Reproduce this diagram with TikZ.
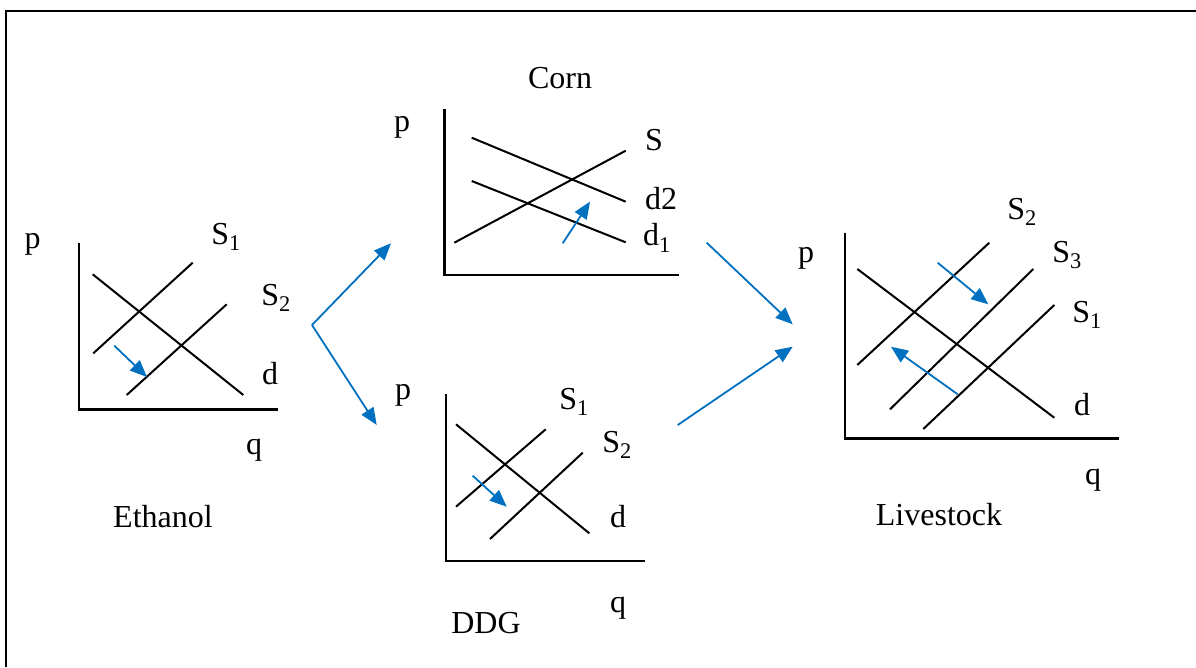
\documentclass[tikz,border=0pt]{standalone}
\usepackage{fontspec}
\setmainfont{Liberation Serif}
\usetikzlibrary{arrows.meta}
\definecolor{shiftblue}{RGB}{0,112,192}
\tikzset{
  axis/.style={line width=2.4pt},
  curve/.style={line width=2pt},
  lbl/.style={inner sep=0pt, font=\fontsize{32}{38}\selectfont},
  shiftarrow/.style={draw=shiftblue, line width=1.8pt,
    -{Triangle[length=17pt,width=14pt]}},
  link/.style={draw=shiftblue, line width=1.8pt,
    -{Triangle[length=17pt,width=14pt]}}
}
\newcommand{\Ssub}[1]{S\textsubscript{#1}}
\begin{document}
\begin{tikzpicture}[x=1pt,y=-1pt]
\useasboundingbox (0,0) rectangle (1196,667);
% outer frame (top and left edges)
\draw[line width=2.4pt] (6,667) -- (6,11) -- (1196,11);

% ---------- Ethanol market ----------
\coordinate (eO) at (78.7,409.3);
\draw[axis] (78.7,242.7) -- (eO) -- (277.7,409.3);
\coordinate (eS1a) at (93.3,353.3);  \coordinate (eS1b) at (192.7,262.7);
\coordinate (eS2a) at (126.7,395);   \coordinate (eS2b) at (226.7,304.3);
\coordinate (eDa) at (92.7,274.3);   \coordinate (eDb) at (243.3,395);
\draw[curve] (eS1a) -- (eS1b);
\draw[curve] (eS2a) -- (eS2b);
\draw[curve] (eDa) -- (eDb);
\coordinate (eAr1) at (114.3,345.7); \coordinate (eAr2) at (147,377);
\draw[shiftarrow] (eAr1) -- (eAr2);
\node[lbl] (ep) at (32.5,244) {p};
\node[lbl] (eS1) at (226,237) {\Ssub{1}};
\node[lbl] (eS2) at (276,298) {\Ssub{2}};
\node[lbl] (ed) at (270,374) {d};
\node[lbl] (eq) at (254,450) {q};
\node[lbl] (eth) at (163,517) {Ethanol};

% ---------- Corn market ----------
\coordinate (cO) at (444.3,275);
\draw[axis] (444.3,109) -- (cO) -- (679,275);
\coordinate (cSa) at (454.3,242.7);  \coordinate (cSb) at (625.7,150.7);
\coordinate (cD2a) at (471.7,137.7); \coordinate (cD2b) at (625.7,201.7);
\coordinate (cD1a) at (471.7,181);   \coordinate (cD1b) at (625.7,242.3);
\draw[curve] (cSa) -- (cSb);
\draw[curve] (cD2a) -- (cD2b);
\draw[curve] (cD1a) -- (cD1b);
\coordinate (cAr1) at (562.7,243.3); \coordinate (cAr2) at (590,201.7);
\draw[shiftarrow] (cAr1) -- (cAr2);
\node[lbl] (corn) at (560,78) {Corn};
\node[lbl] (cp) at (402,127) {p};
\node[lbl] (cS) at (654,140) {S};
\node[lbl] (cd2) at (661,199) {d2};
\node[lbl] (cd1) at (657,238) {d\textsubscript{1}};

% ---------- DDG market ----------
\coordinate (gO) at (446,561);
\draw[axis] (446,394.3) -- (gO) -- (645,561);
\coordinate (gDa) at (456,424.3);    \coordinate (gDb) at (589.3,533.3);
\coordinate (gS1a) at (456,506.7);   \coordinate (gS1b) at (545.7,429.3);
\coordinate (gS2a) at (490,539);     \coordinate (gS2b) at (582.7,452.7);
\draw[curve] (gDa) -- (gDb);
\draw[curve] (gS1a) -- (gS1b);
\draw[curve] (gS2a) -- (gS2b);
\coordinate (gAr1) at (472.7,475.7); \coordinate (gAr2) at (506.7,506.7);
\draw[shiftarrow] (gAr1) -- (gAr2);
\node[lbl] (gp) at (403,395) {p};
\node[lbl] (gS1) at (574,402) {\Ssub{1}};
\node[lbl] (gS2) at (617,445) {\Ssub{2}};
\node[lbl] (gd) at (618,517) {d};
\node[lbl] (gq) at (618,608) {q};
\node[lbl] (ddg) at (486,623) {DDG};

% ---------- Livestock market ----------
\coordinate (lO) at (845,438.3);
\draw[axis] (845,232.7) -- (lO) -- (1119.3,438.3);
\coordinate (lDa) at (857.3,269);    \coordinate (lDb) at (1054.3,417.7);
\coordinate (lS2a) at (857.3,365);   \coordinate (lS2b) at (989.3,242.7);
\coordinate (lS3a) at (890,409.3);   \coordinate (lS3b) at (1033.3,269);
\coordinate (lS1a) at (923.3,429);   \coordinate (lS1b) at (1054.3,305);
\draw[curve] (lDa) -- (lDb);
\draw[curve] (lS2a) -- (lS2b);
\draw[curve] (lS3a) -- (lS3b);
\draw[curve] (lS1a) -- (lS1b);
\coordinate (lAr1) at (937.7,262.7); \coordinate (lAr2) at (988.3,304.3);
\draw[shiftarrow] (lAr1) -- (lAr2);
\coordinate (lAr3) at (957.7,394.3); \coordinate (lAr4) at (891,346.7);
\draw[shiftarrow] (lAr3) -- (lAr4);
\node[lbl] (lp) at (806,258) {p};
\node[lbl] (lS2) at (1022,212) {\Ssub{2}};
\node[lbl] (lS3) at (1067,255) {\Ssub{3}};
\node[lbl] (lS1) at (1087,315) {\Ssub{1}};
\node[lbl] (ld) at (1082,405) {d};
\node[lbl] (lq) at (1093,480) {q};
\node[lbl] (live) at (939,515) {Livestock};

% ---------- links between markets ----------
\coordinate (split) at (312,325);
\coordinate (toCorn) at (391,243.3);
\coordinate (toDDG) at (376.7,425);
\draw[link] (split) -- (toCorn);
\draw[link] (split) -- (toDDG);
\coordinate (fromCorn) at (706.7,242.7);
\coordinate (fromDDG) at (677.7,425);
\coordinate (toLive1) at (792.7,324.3);
\coordinate (toLive2) at (792.7,346.7);
\draw[link] (fromCorn) -- (toLive1);
\draw[link] (fromDDG) -- (toLive2);
\end{tikzpicture}
\end{document}
